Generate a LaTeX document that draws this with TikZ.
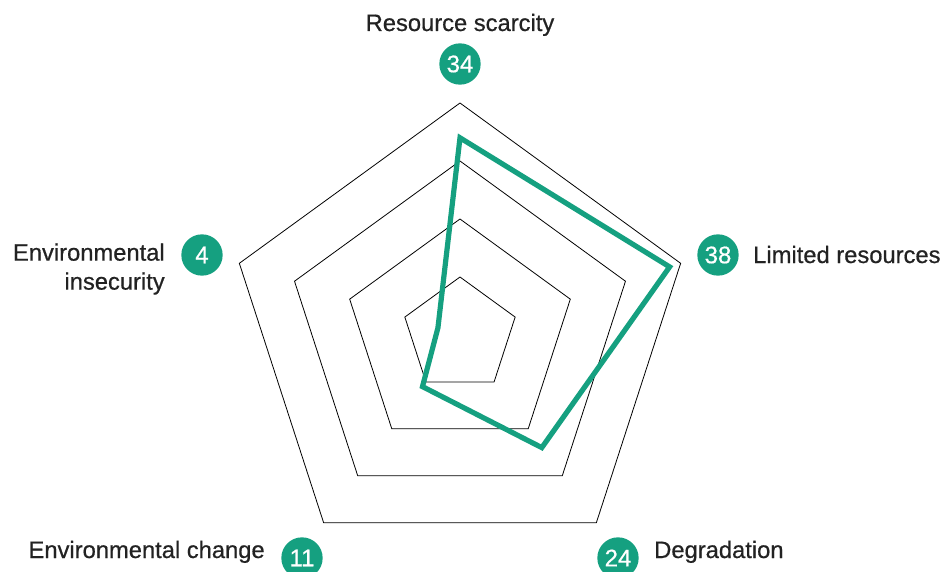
\documentclass[tikz,border=0pt]{standalone}
\usepackage{fontspec}
\setmainfont{Liberation Sans}
\newfontfamily\labelfont{Liberation Sans}[FakeBold=0.6]
\definecolor{radargreen}{RGB}{21,160,128}
\definecolor{labelgray}{RGB}{34,34,34}

\begin{document}
\begin{tikzpicture}[x=0.75pt,y=0.75pt,
		axislabel/.style={text=labelgray, font=\labelfont\fontsize{17.8}{21.75}\selectfont, inner sep=0pt},
		badge/.style={circle, fill=radargreen, text=white, minimum size=31pt, inner sep=0pt, font=\labelfont\fontsize{18}{20}\selectfont}]
		\useasboundingbox (-460,-237) rectangle (491,335);

		% rings
		\foreach \r in {58,116,174,232} {
			\draw[line width=0.6pt] (90:\r) -- (18:\r) -- (-54:\r) -- (-126:\r) -- (162:\r) -- cycle;
		}

		% data, max 40 -> 232
		\foreach \i/\ang/\val in {1/90/34, 2/18/38, 3/-54/24, 4/-126/11, 5/162/4} {
			\coordinate (v\i) at (\ang:\val*5.8);
		}
		\draw[radargreen, line width=3.9pt] (v1) -- (v2) -- (v3) -- (v4) -- (v5) -- cycle;

		% badges and labels
		\node[badge] (scarcity) at (0,271) {34};
		\node[axislabel, anchor=base] (scarcitylabel) at (0,304) {Resource scarcity};

		\node[badge] (limited) at (258,80) {38};
		\node[axislabel, anchor=base west] (limitedlabel) at (293,72) {Limited resources};

		\node[badge] (degradation) at (158,-223) {24};
		\node[axislabel, anchor=base west] (degradationlabel) at (194,-223) {Degradation};

		\node[badge] (change) at (-158,-223) {11};
		\node[axislabel, anchor=base east] (changelabel) at (-195,-223) {Environmental change};

		\node[badge] (insecurity) at (-258,80) {4};
		\node[axislabel, anchor=east, align=right] (insecuritylabel) at (-295,66) {Environmental\\insecurity};
	\end{tikzpicture}
\end{document}
